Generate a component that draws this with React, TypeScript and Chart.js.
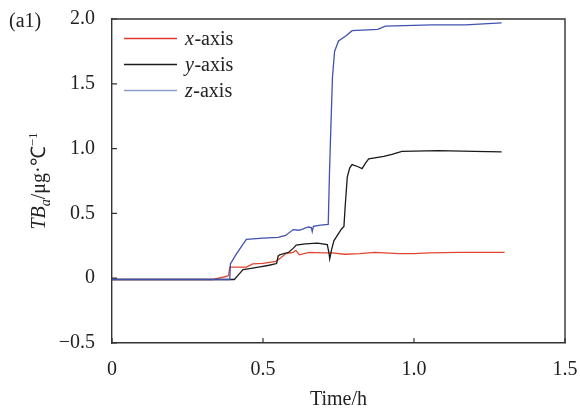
import React, { useEffect, useRef } from "react";
import { Chart, registerables } from "chart.js";
Chart.register(...registerables);

// x-axis series
const timeX = [0, 0.335, 0.36, 0.38, 0.386, 0.39, 0.42, 0.445, 0.466, 0.5, 0.543, 0.56, 0.576, 0.6, 0.609, 0.62, 0.653, 0.7, 0.73, 0.77, 0.82, 0.87, 0.95, 1.0, 1.05, 1.15, 1.3];
const valuesX = [-0.01, -0.01, 0.005, 0.015, 0.02, 0.085, 0.085, 0.085, 0.11, 0.115, 0.13, 0.16, 0.19, 0.2, 0.215, 0.18, 0.2, 0.195, 0.195, 0.185, 0.19, 0.2, 0.19, 0.19, 0.195, 0.2, 0.2];

// y-axis series
const timeY = [0, 0.405, 0.42, 0.434, 0.46, 0.49, 0.52, 0.545, 0.55, 0.555, 0.585, 0.6, 0.61, 0.64, 0.68, 0.713, 0.718, 0.721, 0.727, 0.735, 0.76, 0.768, 0.772, 0.779, 0.787, 0.795, 0.815, 0.828, 0.84, 0.85, 0.9, 0.927, 0.96, 1.08, 1.2, 1.29];
const valuesY = [-0.01, -0.01, 0.03, 0.067, 0.075, 0.087, 0.1, 0.113, 0.17, 0.18, 0.2, 0.23, 0.255, 0.265, 0.27, 0.26, 0.2, 0.15, 0.22, 0.29, 0.38, 0.4, 0.55, 0.78, 0.85, 0.877, 0.86, 0.845, 0.89, 0.92, 0.94, 0.955, 0.978, 0.985, 0.978, 0.975];

// z-axis series
const timeZ = [0, 0.39, 0.392, 0.41, 0.43, 0.445, 0.5, 0.55, 0.575, 0.6, 0.62, 0.65, 0.66, 0.663, 0.667, 0.69, 0.716, 0.72, 0.724, 0.73, 0.737, 0.75, 0.775, 0.795, 0.88, 0.905, 1.06, 1.17, 1.29];
const valuesZ = [-0.01, -0.01, 0.11, 0.18, 0.25, 0.3, 0.31, 0.315, 0.33, 0.375, 0.37, 0.395, 0.39, 0.36, 0.4, 0.41, 0.415, 0.8, 1.11, 1.55, 1.75, 1.83, 1.87, 1.91, 1.92, 1.945, 1.955, 1.955, 1.97];

const xTicks = [0, 0.5, 1.0, 1.5];
const yTicks = [-0.5, 0, 0.5, 1.0, 1.5, 2.0];
const legendAxes = ["x", "y", "z"];
const legendSuffix = "-axis";
const xTitle = "Time/h";
const panelLabel = "(a1)";

const lineColors = ["#e0462f", "#1a1a1a", "#4052b0"];
const legendColors = ["#e03a30", "#1a1a1a", "#8e9cca"];
const FONT = "'Liberation Serif', 'Times New Roman', serif";
const FS = 20;
const AXIS_COLOR = "#333";

const fmt = (v: number) => (v === 0 ? "0" : v < 0 ? "\u2212" + Math.abs(v).toFixed(1) : v.toFixed(1));

const pts = (xs: number[], ys: number[]) => xs.map((x, i) => ({ x, y: ys[i] }));

const decorPlugin = {
  id: "decor",
  afterDraw(chart: any) {
    const { ctx, chartArea, scales } = chart;
    const { left, right, top, bottom } = chartArea;
    ctx.save();
    ctx.strokeStyle = AXIS_COLOR;
    ctx.lineWidth = 1.4;
    ctx.beginPath();
    ctx.moveTo(left, top);
    ctx.lineTo(right, top);
    ctx.lineTo(right, bottom);
    ctx.stroke();
    // inward ticks
    ctx.lineWidth = 1.2;
    ctx.beginPath();
    xTicks.forEach((v) => {
      const px = scales.x.getPixelForValue(v);
      ctx.moveTo(px, bottom);
      ctx.lineTo(px, bottom - 5);
    });
    yTicks.forEach((v) => {
      const py = scales.y.getPixelForValue(v);
      ctx.moveTo(left, py);
      ctx.lineTo(left + 5, py);
    });
    ctx.stroke();

    ctx.fillStyle = "#222";
    // panel label
    ctx.font = `${FS}px ${FONT}`;
    ctx.textBaseline = "alphabetic";
    ctx.textAlign = "left";
    ctx.fillText(panelLabel, 9, 27);

    // x title
    ctx.textAlign = "center";
    ctx.fillText(xTitle, (left + right) / 2, 405);

    // legend
    ctx.textAlign = "left";
    legendAxes.forEach((a, i) => {
      const y = 38.5 + i * 26;
      ctx.strokeStyle = legendColors[i];
      ctx.lineWidth = 1.5;
      ctx.beginPath();
      ctx.moveTo(124, y);
      ctx.lineTo(177, y);
      ctx.stroke();
      ctx.font = `italic ${FS}px ${FONT}`;
      ctx.fillText(a, 185, y + 6.5);
      const w = ctx.measureText(a).width;
      ctx.font = `${FS}px ${FONT}`;
      ctx.fillText(legendSuffix, 185 + w + 0.5, y + 6.5);
    });

    // y title with rich text
    const segs = [
      { t: "TB", f: `italic ${FS}px ${FONT}`, dy: 0 },
      { t: "a", f: `italic ${Math.round(FS * 0.7)}px ${FONT}`, dy: 5 },
      { t: "/\u03bcg\u00b7\u2103", f: `${FS}px ${FONT}`, dy: 0 },
      { t: "\u22121", f: `${Math.round(FS * 0.65)}px ${FONT}`, dy: -8 },
    ];
    let total = 0;
    const widths = segs.map((s) => {
      ctx.font = s.f;
      const w = ctx.measureText(s.t).width;
      total += w;
      return w;
    });
    ctx.translate(38, (top + bottom) / 2);
    ctx.rotate(-Math.PI / 2);
    let cx = -total / 2;
    segs.forEach((s, i) => {
      ctx.font = s.f;
      ctx.fillText(s.t, cx, 7 + s.dy);
      cx += widths[i];
    });
    ctx.restore();
  },
};

export default function App() {
  const ref = useRef<HTMLCanvasElement>(null);
  useEffect(() => {
    document.body.style.margin = "0";
    const canvas = ref.current!;
    const chart = new Chart(canvas, {
      type: "line",
      data: {
        datasets: [
          { label: "z-axis", data: pts(timeZ, valuesZ), borderColor: lineColors[2] },
          { label: "y-axis", data: pts(timeY, valuesY), borderColor: lineColors[1] },
          { label: "x-axis", data: pts(timeX, valuesX), borderColor: lineColors[0] },
        ].map((d) => ({ ...d, borderWidth: 1.3, pointRadius: 0, tension: 0, fill: false })),
      },
      options: {
        animation: false,
        responsive: false,
        devicePixelRatio: 1,
        layout: { padding: { left: 0, top: 19, right: 15, bottom: 0 } },
        plugins: { legend: { display: false }, tooltip: { enabled: false } },
        scales: {
          x: {
            type: "linear",
            min: 0,
            max: 1.5,
            afterBuildTicks: (s: any) => {
              s.ticks = xTicks.map((v) => ({ value: v }));
            },
            afterFit: (s: any) => {
              s.height = 74;
              s.paddingLeft = 0;
              s.paddingRight = 0;
            },
            grid: { display: true, drawOnChartArea: false, drawTicks: false },
            border: { display: true, color: AXIS_COLOR, width: 1.4 },
            ticks: {
              padding: 15,
              color: "#222",
              font: { family: FONT, size: FS },
              maxRotation: 0,
              callback: (v: any) => fmt(Number(v)),
            },
          },
          y: {
            type: "linear",
            min: -0.5,
            max: 2.0,
            afterBuildTicks: (s: any) => {
              s.ticks = yTicks.map((v) => ({ value: v }));
            },
            afterFit: (s: any) => {
              s.width = 112;
              s.paddingTop = 0;
              s.paddingBottom = 0;
            },
            grid: { display: true, drawOnChartArea: false, drawTicks: false },
            border: { display: true, color: AXIS_COLOR, width: 1.4 },
            ticks: {
              padding: 17,
              color: "#222",
              font: { family: FONT, size: FS },
              callback: (v: any) => fmt(Number(v)),
            },
          },
        },
      },
      plugins: [decorPlugin],
    } as any);
    return () => chart.destroy();
  }, []);
  return (
    <div style={{ width: 580, height: 417, background: "#fff" }}>
      <canvas ref={ref} width={580} height={417} style={{ display: "block" }} />
    </div>
  );
}
